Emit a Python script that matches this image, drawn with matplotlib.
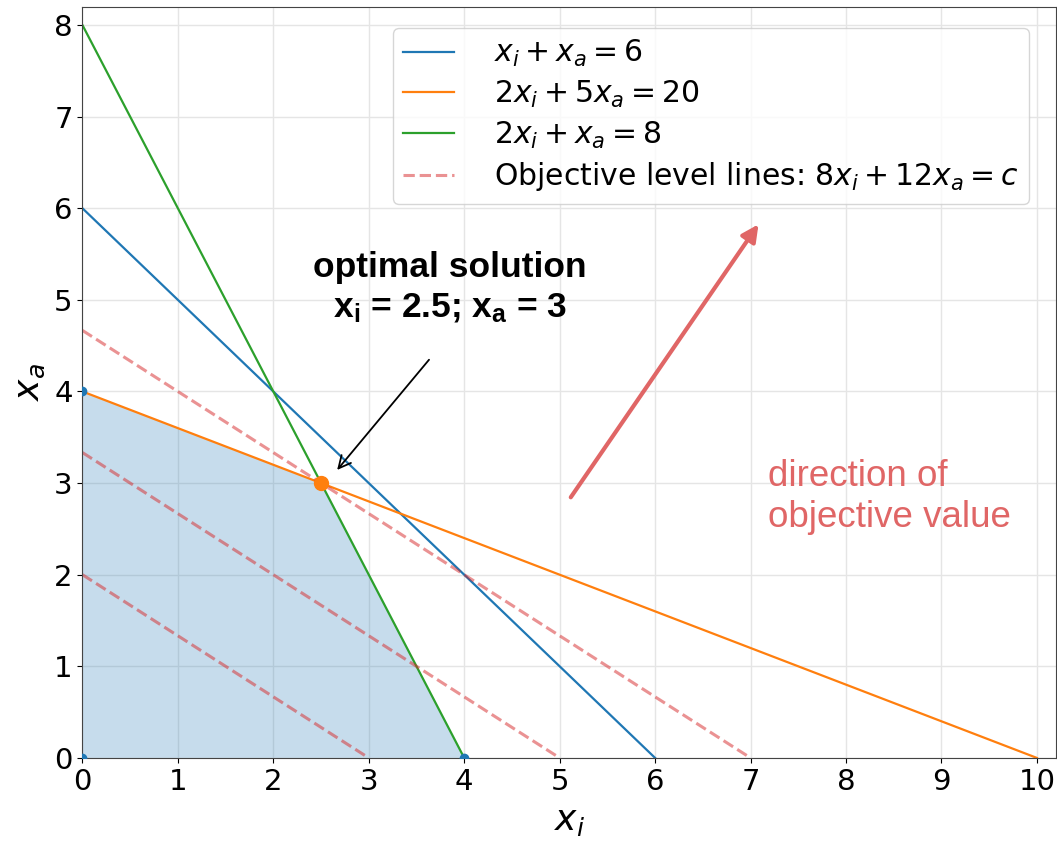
import numpy as np
import matplotlib.pyplot as plt

plt.rcParams['mathtext.fontset'] = 'custom'
plt.rcParams['mathtext.rm'] = 'DejaVu Sans'
plt.rcParams['mathtext.it'] = 'DejaVu Sans:italic'
plt.rcParams['mathtext.bf'] = 'Liberation Sans:bold'

# constraint lines (endpoints)
c1_x = [0, 6]
c1_y = [6, 0]
c2_x = [0, 10]
c2_y = [4, 0]
c3_x = [0, 4]
c3_y = [8, 0]

# objective level lines 8x_i + 12x_a = c, c = 24, 40, 56
level_x0 = [3, 5, 7]
level_y0 = [2, 10 / 3, 14 / 3]

# feasible region corners
region_x = [0, 0, 2.5, 4]
region_y = [0, 4, 3, 0]
corner_x = [0, 0, 4]
corner_y = [4, 0, 0]
opt_x, opt_y = 2.5, 3

fig = plt.figure(figsize=(10.57, 8.44), dpi=100)
ax = fig.add_axes([0.078, 0.102, 0.921, 0.89])

ax.fill(region_x, region_y, color='C0', alpha=0.25, lw=0)
ax.plot(c1_x, c1_y, color='C0', lw=1.6, label=r'$x_i + x_a = 6$')
ax.plot(c2_x, c2_y, color='C1', lw=1.6, label=r'$2x_i + 5x_a = 20$')
ax.plot(c3_x, c3_y, color='C2', lw=1.6, label=r'$2x_i + x_a = 8$')
for i in range(len(level_x0)):
    ax.plot([0, level_x0[i]], [level_y0[i], 0], color='tab:red', alpha=0.5,
            ls='--', lw=2.2, label='Objective level lines: $8x_i + 12x_a = c$' if i == 0 else None)

ax.plot(corner_x, corner_y, 'o', color='C0', ms=6, zorder=3)
ax.plot(opt_x, opt_y, 'o', color='C1', ms=10, zorder=6)

ax.annotate('', xy=(2.65, 3.12), xytext=(3.65, 4.37),
            arrowprops=dict(arrowstyle='->', color='black', lw=1.3, mutation_scale=22))
ax.text(3.85, 5.13, 'optimal solution\n' + r'$\mathbf{x_i}$ = 2.5; $\mathbf{x_a}$ = 3',
        ha='center', va='center', fontsize=25.5, fontweight='bold',
        family='Liberation Sans', linespacing=1.3)

ax.annotate('', xy=(7.1, 5.85), xytext=(5.1, 2.82),
            arrowprops=dict(arrowstyle='-|>', color='#e06666', lw=3.0, mutation_scale=25))
ax.text(7.18, 2.85, 'direction of\nobjective value', ha='left', va='center',
        fontsize=26.5, color='#e06666', family='Liberation Sans', linespacing=1.22)

ax.set_xlim(0, 10.2)
ax.set_ylim(0, 8.2)
ax.set_xticks(range(0, 11))
ax.set_yticks(range(0, 9))
ax.tick_params(labelsize=21)
ax.set_xlabel('$x_i$', fontsize=26, labelpad=6)
ax.set_ylabel('$x_a$', fontsize=26, labelpad=5)
ax.grid(True, color='#e5e5e5', lw=1)
ax.set_axisbelow(True)
for s in ax.spines.values():
    s.set_color('#444444')
ax.legend(loc='upper right', fontsize=21.5, handlelength=1.7, handletextpad=1.35,
          labelspacing=0.32, borderpad=0.35, bbox_to_anchor=(0.988, 0.992))

fig.savefig('out.png', dpi=100)
